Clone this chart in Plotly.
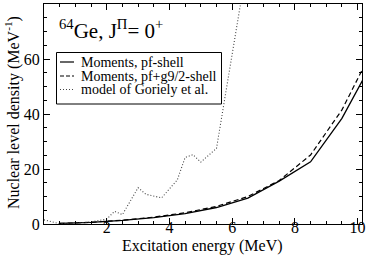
import plotly.graph_objects as go

# Data
energy_moments = [0.5, 1.5, 2.5, 3.5, 4.5, 5.5, 6.5, 7.5, 8.5, 9.5, 10.5]
rho_pf = [0.2, 0.6, 1.3, 2.3, 3.8, 6.0, 9.4, 15.6, 22.6, 38.4, 59.5]
rho_pfg = [0.2, 0.6, 1.4, 2.5, 4.1, 6.4, 10.0, 15.8, 25.1, 41.5, 64.0]

energy_goriely = [0.0, 0.5, 1.0, 1.5, 2.0, 2.25, 2.5, 3.0, 3.25, 3.75, 4.25,
                  4.5, 4.75, 5.0, 5.5, 6.5]
rho_goriely = [1.5, 0.1, 0.3, 0.8, 1.8, 4.6, 3.4, 13.2, 10.8, 9.5, 16.0,
               24.2, 25.2, 22.5, 27.5, 96.0]

series_names = ["Moments, pf-shell", "Moments, pf+g9/2-shell",
                "model of Goriely et al."]
x_ticks = [2, 4, 6, 8, 10]
y_ticks = [0, 20, 40, 60, 80]
x_title = "Excitation energy (MeV)"
y_title = "Nuclear level density (MeV<sup>-1</sup>)"

FONT = "Liberation Serif, Times New Roman, Times, serif"

fig = go.Figure()
fig.add_trace(go.Scatter(x=energy_moments, y=rho_pf, mode="lines",
                         line=dict(color="black", width=1.3, dash="solid"),
                         name=series_names[0], showlegend=False))
fig.add_trace(go.Scatter(x=energy_moments, y=rho_pfg, mode="lines",
                         line=dict(color="black", width=1.2, dash="5px,3px"),
                         name=series_names[1], showlegend=False))
fig.add_trace(go.Scatter(x=energy_goriely, y=rho_goriely, mode="lines",
                         line=dict(color="#444444", width=1.1, dash="1px,2px"),
                         name=series_names[2], showlegend=False))

L, R, T, B = 44, 4, 4, 34
W, H = 366, 258
pw, ph = W - L - R, H - T - B

def px(xp):
    return (xp - L) / pw

def py(yp):
    return (T + ph - yp) / ph

# Manual legend box (to match xmgrace-style short samples)
shapes = [dict(type="rect", xref="paper", yref="paper",
               x0=px(56.5), x1=px(221.5), y0=py(104), y1=py(52.5),
               line=dict(color="black", width=1), fillcolor="white", layer="above")]
dashes = ["solid", "4px,2px", "1px,2px"]
colors = ["black", "black", "#444444"]
rows = [62, 76, 89.5]
annotations = []
for name, d, c, yr in zip(series_names, dashes, colors, rows):
    shapes.append(dict(type="line", xref="paper", yref="paper",
                       x0=px(60), x1=px(74), y0=py(yr), y1=py(yr),
                       line=dict(color=c, width=1.2, dash=d), layer="above"))
    annotations.append(dict(text=name, xref="paper", yref="paper",
                            x=px(79), y=py(yr), xanchor="left", yanchor="middle",
                            showarrow=False,
                            font=dict(family=FONT, size=14, color="black")))

annotations.append(dict(text="<sup>64</sup>Ge, J<sup>Π</sup>= 0<sup>+</sup>",
                        xref="paper", yref="paper", x=px(57), y=py(30),
                        xanchor="left", yanchor="middle", showarrow=False,
                        font=dict(family=FONT, size=21, color="black")))

# Axis titles as annotations for exact placement
annotations.append(dict(text=x_title, xref="paper", yref="paper",
                        x=px(202), y=py(246), xanchor="center", yanchor="middle",
                        showarrow=False,
                        font=dict(family=FONT, size=16, color="black")))
annotations.append(dict(text=y_title, xref="paper", yref="paper",
                        x=px(12), y=py(113), xanchor="center", yanchor="middle",
                        textangle=-90, showarrow=False,
                        font=dict(family=FONT, size=16, color="black")))

axis_common = dict(showline=True, linecolor="black", linewidth=1.3,
                   mirror="ticks", ticks="inside", ticklen=6, tickwidth=1,
                   tickcolor="black", showgrid=False, zeroline=False,
                   automargin=False,
                   tickfont=dict(family=FONT, size=16, color="black"))

fig.update_xaxes(range=[0, 10.14], tickvals=x_ticks,
                 ticktext=[str(v) for v in x_ticks],
                 ticklabelstandoff=-11,
                 minor=dict(dtick=0.5, ticks="inside", ticklen=3,
                            tickcolor="black", showgrid=False),
                 **axis_common)
fig.update_yaxes(range=[0, 80], tickvals=y_ticks,
                 ticktext=[str(v) for v in y_ticks],
                 minor=dict(dtick=5, ticks="inside", ticklen=3,
                            tickcolor="black", showgrid=False),
                 **axis_common)

fig.update_layout(width=W, height=H, margin=dict(l=L, r=R, t=T, b=B),
                  paper_bgcolor="white", plot_bgcolor="white",
                  shapes=shapes, annotations=annotations, showlegend=False)

fig.write_html("out.html", config={"displayModeBar": False},
               post_script="document.body.style.margin='0';document.body.style.overflow='hidden';")
